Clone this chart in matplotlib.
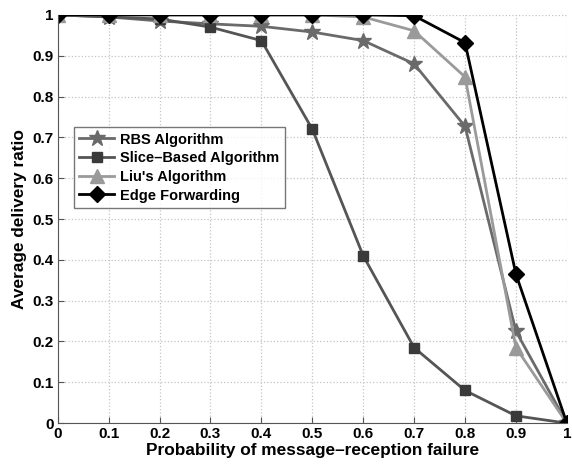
import numpy as np
import matplotlib
matplotlib.use("Agg")
import matplotlib.pyplot as plt

plt.rcParams['font.family'] = ['Liberation Sans', 'DejaVu Sans']
plt.rcParams['font.weight'] = 'bold'
plt.rcParams['axes.labelweight'] = 'bold'

p_fail = [0, 0.1, 0.2, 0.3, 0.4, 0.5, 0.6, 0.7, 0.8, 0.9, 1.0]
rbs = [1.0, 0.995, 0.985, 0.978, 0.972, 0.958, 0.937, 0.88, 0.727, 0.225, 0.0]
slice_based = [1.0, 0.995, 0.99, 0.97, 0.937, 0.72, 0.41, 0.185, 0.08, 0.018, 0.0]
liu = [1.0, 1.0, 1.0, 1.0, 1.0, 1.0, 0.995, 0.961, 0.848, 0.185, 0.0]
edge = [1.0, 1.0, 1.0, 1.0, 1.0, 1.0, 1.0, 0.998, 0.932, 0.365, 0.0]
tick_labels = ['0', '0.1', '0.2', '0.3', '0.4', '0.5', '0.6', '0.7', '0.8', '0.9', '1']

fig = plt.figure(figsize=(5.72, 4.65), dpi=100)
ax = fig.add_axes([0.101, 0.09, 0.89, 0.878])

ax.plot(p_fail, rbs, color='#6a6a6a', lw=2, marker='*', ms=12, label='RBS Algorithm')
ax.plot(p_fail, slice_based, color='#555555', lw=2, marker='s', ms=7,
        mfc='#3a3a3a', mec='#3a3a3a', label='Slice\u2013Based Algorithm')
ax.plot(p_fail, liu, color='#9a9a9a', lw=2, marker='^', ms=10, label="Liu's Algorithm")
ax.plot(p_fail, edge, color='black', lw=2, marker='D', ms=8, label='Edge Forwarding')

ax.set_xlim(0, 1)
ax.set_ylim(0, 1)
ax.set_xticks(np.arange(0, 1.01, 0.1))
ax.set_xticklabels(tick_labels)
ax.set_yticks(np.arange(0, 1.01, 0.1))
ax.set_yticklabels(tick_labels)
ax.tick_params(direction='in', labelsize=11, length=4, color='#555555', pad=3)
ax.grid(True, linestyle=':', color='#c4c4c4', lw=0.9)
ax.spines['top'].set_visible(False)
ax.spines['right'].set_visible(False)
ax.spines['left'].set_color('#555555')
ax.spines['bottom'].set_color('#555555')

ax.set_xlabel('Probability of message\u2013reception failure', fontsize=12.4, labelpad=1)
ax.set_ylabel('Average delivery ratio', fontsize=12.4, labelpad=4)

leg = ax.legend(loc='upper left', bbox_to_anchor=(0.031, 0.726), fontsize=10.5,
                frameon=True, fancybox=False, edgecolor='#555555', borderaxespad=0,
                handlelength=2.4, borderpad=0.4, labelspacing=0.32, handletextpad=0.4)
leg.get_frame().set_linewidth(1.0)

fig.savefig('out.png', dpi=100)
